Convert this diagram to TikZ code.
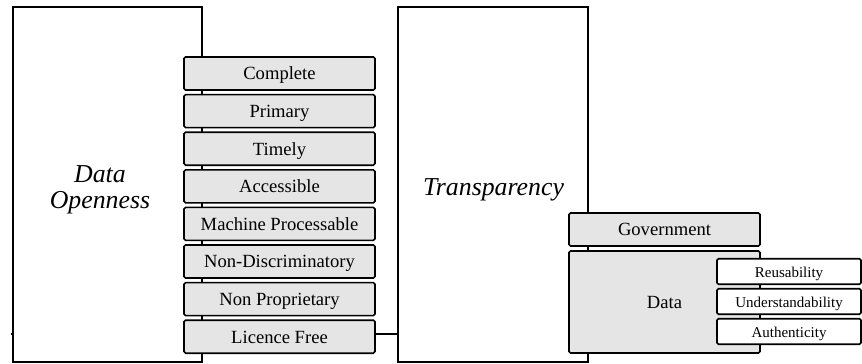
\documentclass[tikz,border=0pt]{standalone}
\usepackage{fontspec}
\setmainfont{Liberation Serif}
\usetikzlibrary{positioning,backgrounds}

\begin{document}
\begin{tikzpicture}[
    x=0.5pt, y=-0.5pt,
    node distance=2.3pt,
    pillar/.style={rectangle, draw, line width=1.1pt, fill=white, outer sep=0pt,
                   minimum width=94.5pt, minimum height=177.5pt},
    pillarlabel/.style={align=center, inner sep=0pt,
                        font=\fontsize{12.9}{13.2}\selectfont\itshape},
    crit/.style={rectangle, draw, line width=0.8pt, fill=black!10, rounded corners=0.8pt,
                 outer sep=0pt, inner sep=0pt, minimum width=95.5pt, minimum height=16.5pt,
                 text height=0.75em, text depth=0.12em,
                 font=\fontsize{9.3}{11}\selectfont},
    facet/.style={rectangle, draw, line width=0.8pt, fill=white, rounded corners=0.8pt,
                  outer sep=0pt, inner sep=0pt, minimum width=72pt, minimum height=12.75pt,
                  text height=0.75em, text depth=0.12em,
                  font=\fontsize{7.5}{9}\selectfont},
    link/.style={line width=1pt},
]
\useasboundingbox (0,0) rectangle (862,364);

% Two pillars
\node[pillar] (open) at (107.5,184.5) {};
\node[pillar, minimum width=95pt] (transp) at (493,184.5) {};
\node[pillarlabel] (openlbl) at (100,190) {Data\\Openness};
\node[pillarlabel] (transplbl) at (493.5,190) {Transparency};

% Openness criteria
\node[crit] (complete) at (279.5,73.5) {Complete};
\node[crit, below=of complete] (primary) {Primary};
\node[crit, below=of primary] (timely) {Timely};
\node[crit, below=of timely] (access) {Accessible};
\node[crit, below=of access] (machine) {Machine Processable};
\node[crit, below=of machine] (nondisc) {Non-Discriminatory};
\node[crit, below=of nondisc] (nonprop) {Non Proprietary};
\node[crit, below=of nonprop] (lic) {Licence Free};

% Transparency parts
\node[crit] (gov) at (664.5,229.5) {Government};
\node[crit, below=2.5pt of gov, minimum height=51pt] (data) {Data};

% Data facets
\node[facet] (reuse) at (789,271.5) {Reusability};
\node[facet, below=2.25pt of reuse] (underst) {Understandability};
\node[facet, below=2.25pt of underst] (authent) {Authenticity};

% Link between the pillars
\coordinate (stub) at ([xshift=-1.2pt,yshift=1.25pt]open.west |- lic.east);
\begin{scope}[on background layer]
\draw[link] (stub) -- (transp.west |- stub);
\end{scope}

\end{tikzpicture}
\end{document}
